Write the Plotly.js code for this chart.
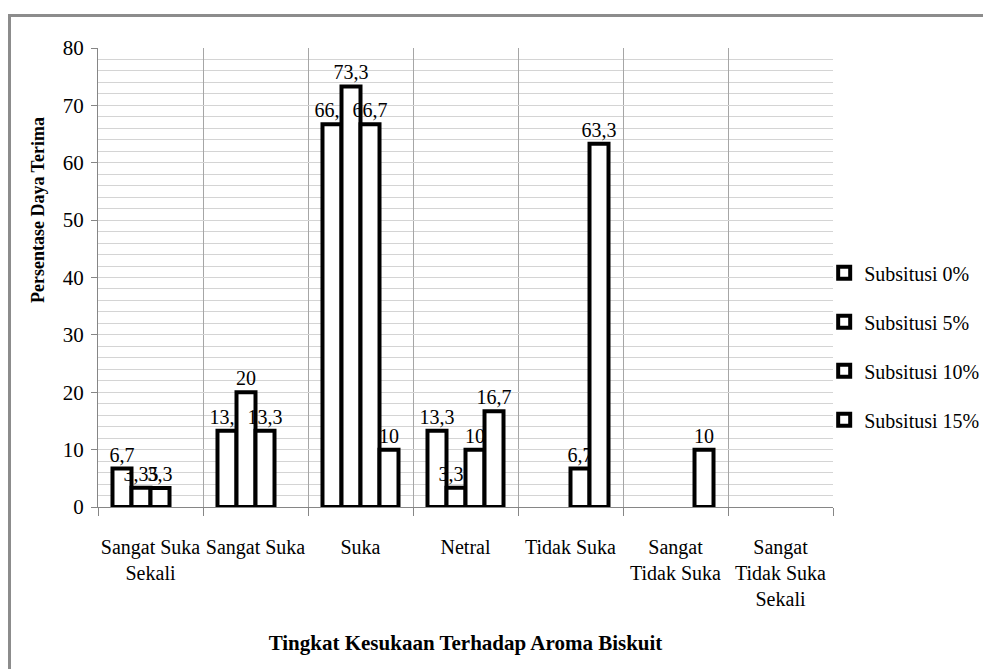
<!DOCTYPE html>
<html>
<head>
<meta charset="utf-8">
<script src="https://cdn.plot.ly/plotly-3.0.1.min.js"></script>
<style>
  html, body { margin: 0; padding: 0; background: #ffffff; }
  #wrap { position: relative; width: 983px; height: 669px; overflow: hidden; }
  #chart { position: absolute; left: 0; top: 0; width: 983px; height: 669px; }
  #frame { position: absolute; left: 8px; top: 14px; width: 1200px; height: 900px;
           border-left: 3px solid #8c8c8c; border-top: 3px solid #8c8c8c; pointer-events: none; }
</style>
</head>
<body>
<div id="wrap">
  <div id="chart"></div>
  <div id="frame"></div>
</div>
<script>
// Preference categories (hedonic scale) shown on the x axis
const categories = [
  "Sangat Suka<br>Sekali",
  "Sangat Suka",
  "Suka",
  "Netral",
  "Tidak Suka",
  "Sangat<br>Tidak Suka",
  "Sangat<br>Tidak Suka<br>Sekali"
];

// Series names
const seriesNames = ["Subsitusi 0%", "Subsitusi 5%", "Subsitusi 10%", "Subsitusi 15%"];

// Percentage of panelists per category for each substitution level
const subsitusi0  = [6.7, 13.3, 66.7, 13.3, null, null, null];
const subsitusi5  = [3.35, 20, 73.3, 3.35, null, null, null];
const subsitusi10 = [3.3, 13.3, 66.7, 10, 6.7, null, null];
const subsitusi15 = [null, null, 10, 16.7, 63.3, 10, null];

const yTickValues = [0, 10, 20, 30, 40, 50, 60, 70, 80];

const seriesValues = [subsitusi0, subsitusi5, subsitusi10, subsitusi15];

const serif = "Liberation Serif";

// Value labels use a decimal comma
const fmt = v => (v === null ? "" : String(v).replace(".", ","));

const traces = seriesValues.map((vals, i) => ({
  type: "bar",
  name: seriesNames[i],
  legendgroup: "g" + i,
  x: categories,
  y: vals,
  text: vals.map(fmt),
  textposition: "outside",
  textangle: 0,
  constraintext: "none",
  cliponaxis: false,
  textfont: { family: serif, size: 20, color: "#000000" },
  marker: { color: "#ffffff", line: { color: "#000000", width: 4 } },
  hoverinfo: "x+y"
}));

const layout = {
  width: 983,
  height: 669,
  paper_bgcolor: "#ffffff",
  plot_bgcolor: "#ffffff",
  margin: { l: 98, r: 150, t: 48, b: 162, autoexpand: false },
  barmode: "group",
  bargap: 0.276,
  bargroupgap: 0,
  showlegend: true,
  legend: {
    x: 0.988, xanchor: "left",
    y: 0.35, yanchor: "middle",
    font: { family: serif, size: 20, color: "#000000" },
    tracegroupgap: 20,
    bgcolor: "rgba(0,0,0,0)"
  },
  xaxis: {
    type: "category",
    range: [-0.5, 6.5],
    tickson: "boundaries",
    ticks: "outside",
    ticklen: 8,
    tickcolor: "#868686",
    tickangle: 0,
    showgrid: true,
    gridcolor: "#a6a6a6",
    gridwidth: 1,
    showline: true,
    linecolor: "#868686",
    linewidth: 1,
    ticklabelstandoff: 22,
    tickfont: { family: serif, size: 20, color: "#000000" },
    title: {
      text: "<b>Tingkat Kesukaan Terhadap Aroma Biskuit</b>",
      font: { family: serif, size: 21, color: "#000000" },
      standoff: 26
    },
    zeroline: false
  },
  yaxis: {
    range: [0, 80],
    tickvals: yTickValues,
    ticks: "outside",
    ticklen: 6,
    tickcolor: "#868686",
    ticklabelstandoff: 3,
    showgrid: true,
    gridcolor: "#d4d4d4",
    gridwidth: 1,
    minor: { dtick: 2, showgrid: true, gridcolor: "#d4d4d4", gridwidth: 1, ticks: "" },
    showline: true,
    linecolor: "#868686",
    linewidth: 1,
    zeroline: false,
    tickfont: { family: serif, size: 21, color: "#000000" }
  },
  annotations: [{
    // y-axis title, set a little above the axis middle
    text: "<b>Persentase Daya Terima</b>",
    font: { family: serif, size: 18, color: "#000000" },
    textangle: -90,
    xref: "paper", yref: "paper",
    x: -0.0816, y: 0.647,
    xanchor: "center", yanchor: "middle",
    showarrow: false
  }]
};

Plotly.newPlot("chart", traces, layout, { displayModeBar: false, staticPlot: true });
</script>
</body>
</html>
